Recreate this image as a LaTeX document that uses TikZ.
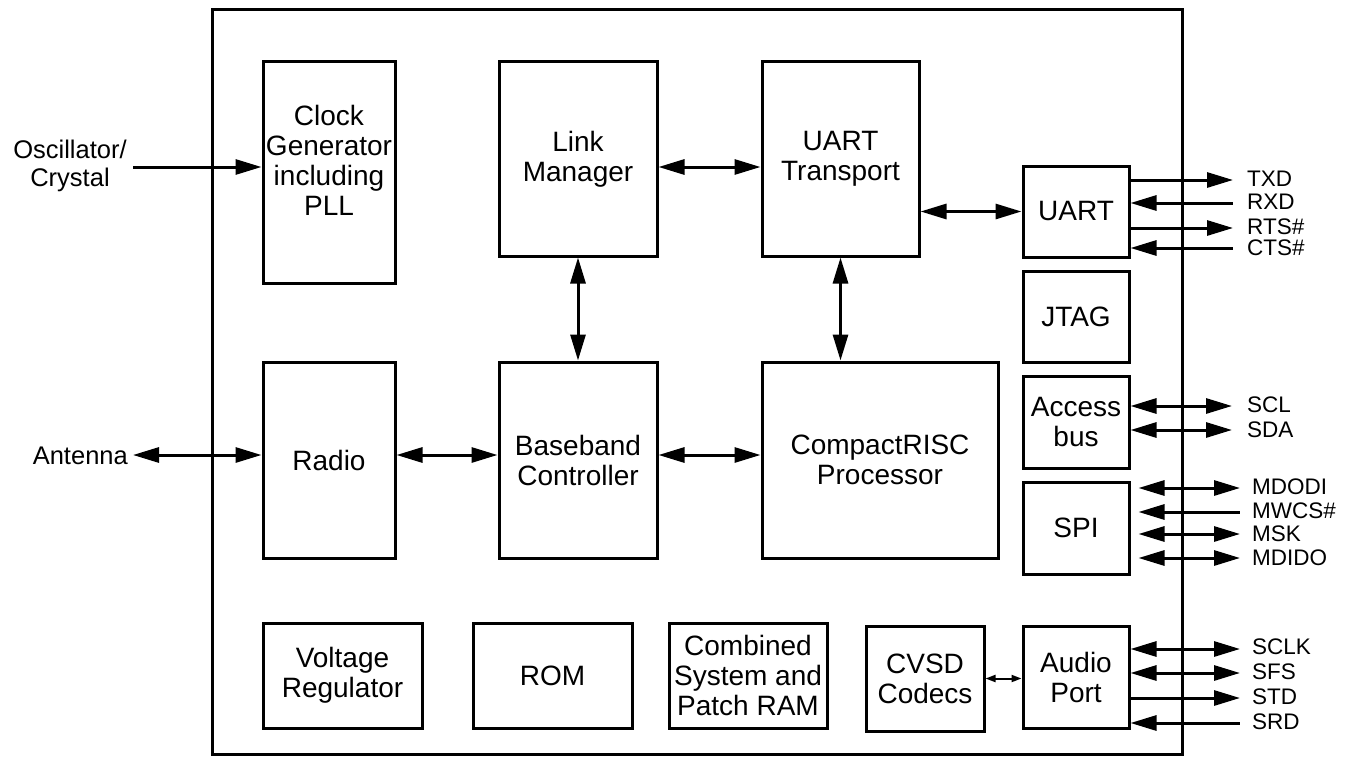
\documentclass[tikz,border=0pt]{standalone}
\usepackage{fontspec}
\setmainfont{Liberation Sans}
\usetikzlibrary{arrows.meta,calc}
\begin{document}
\begin{tikzpicture}[x=1pt,y=-1pt,
  blk/.style={draw, line width=3pt, inner sep=0pt, align=center, font=\fontsize{28}{30}\selectfont},
  txt/.style={inner sep=0pt, align=center, font=\fontsize{28}{30}\selectfont},
  sig/.style={anchor=west, inner sep=0pt, font=\fontsize{22.5}{24}\selectfont},
  ext/.style={inner sep=0pt, align=center, font=\fontsize{25.5}{28}\selectfont},
  conn/.style={line width=3pt, >={Triangle[length=26pt,width=15pt]}},
  small/.style={line width=2pt, >={Triangle[length=10pt,width=7pt]}}
]
\useasboundingbox (0,0) rectangle (1351,757);
% outer chip
\node[draw, line width=3pt, inner sep=0pt, minimum width=970pt, minimum height=744pt] (chip) at (697,382) {};
% top row
\node[blk, minimum width=132pt, minimum height=221pt] (clk) at (329,172.5) {};
\node[txt] (clktxt) at (329,160) {Clock\\Generator\\including\\PLL};
\node[blk, minimum width=158pt, minimum height=194pt] (lm) at (578,159) {Link\\Manager};
\node[blk, minimum width=157pt, minimum height=194pt] (ut) at (840.5,159) {UART\\Transport};
% middle row
\node[blk, minimum width=132pt, minimum height=196pt] (radio) at (329,460) {Radio};
\node[blk, minimum width=158pt, minimum height=196pt] (bb) at (578,460) {Baseband\\Controller};
\node[blk, minimum width=236pt, minimum height=196pt] (cr) at (880,460) {CompactRISC\\Processor};
% bottom row
\node[blk, minimum width=159pt, minimum height=105pt] (vr) at (342.5,675.5) {Voltage\\Regulator};
\node[blk, minimum width=159pt, minimum height=105pt] (rom) at (552.5,675.5) {ROM};
\node[blk, minimum width=158pt, minimum height=105pt] (ram) at (748,675.5) {Combined\\System and\\Patch RAM};
\node[blk, minimum width=118pt, minimum height=105pt] (cvsd) at (925,678.5) {CVSD\\Codecs};
% right column
\node[blk, minimum width=106pt, minimum height=91pt] (uart) at (1076,211.5) {UART};
\node[blk, minimum width=106pt, minimum height=91pt] (jtag) at (1076,316.5) {JTAG};
\node[blk, minimum width=106pt, minimum height=92pt] (acc) at (1076,422) {Access\\bus};
\node[blk, minimum width=106pt, minimum height=92pt] (spi) at (1076,528) {SPI};
\node[blk, minimum width=106pt, minimum height=102pt] (ap) at (1076,677) {Audio\\Port};
% external labels
\node[ext] (osc) at (70,166) {Oscillator/\\Crystal};
\node[ext, anchor=east] (ant) at (128,456) {Antenna};
\coordinate (oscend) at (133,167);
\coordinate (antend) at (133,455);
% internal connectors
\draw[conn,->] (oscend) -- (oscend -| clk.west);
\draw[conn,<->] (antend) -- (antend -| radio.west);
\draw[conn,<->] (lm.east |- 0,167) -- (ut.west |- 0,167);
\draw[conn,<->] (ut.east |- uart.west) -- (uart.west);
\draw[conn,<->] (lm.south) -- (bb.north);
\draw[conn,<->] (ut.south) -- (ut.south |- cr.north);
\draw[conn,<->] (radio.east |- 0,455) -- (bb.west |- 0,455);
\draw[conn,<->] (bb.east |- 0,455) -- (cr.west |- 0,455);
\draw[small,<->] (cvsd.east) -- (cvsd.east -| ap.west);
% signal ends
\coordinate (txd) at (1233,180);
\coordinate (rxd) at (1233,203);
\coordinate (rts) at (1233,228);
\coordinate (cts) at (1233,248);
\coordinate (scl) at (1232,406);
\coordinate (sda) at (1232,430);
\coordinate (mdodi) at (1240,488);
\coordinate (mwcs) at (1240,512);
\coordinate (msk) at (1240,534);
\coordinate (mdido) at (1240,558);
\coordinate (sclk) at (1240,649);
\coordinate (sfs) at (1240,673);
\coordinate (std) at (1240,698);
\coordinate (srd) at (1240,723);
% UART signals
\draw[conn,->] (uart.east |- txd) -- (txd);
\draw[conn,<-] (uart.east |- rxd) -- (rxd);
\draw[conn,->] (uart.east |- rts) -- (rts);
\draw[conn,<-] (uart.east |- cts) -- (cts);
% Access bus
\draw[conn,<->] (acc.east |- scl) -- (scl);
\draw[conn,<->] (acc.east |- sda) -- (sda);
% SPI
\draw[conn,<->] ($(spi.east |- mdodi)+(8,0)$) -- (mdodi);
\draw[conn,<-] ($(spi.east |- mwcs)+(8,0)$) -- (mwcs);
\draw[conn,<->] ($(spi.east |- msk)+(8,0)$) -- (msk);
\draw[conn,<->] ($(spi.east |- mdido)+(8,0)$) -- (mdido);
% Audio
\draw[conn,<->] (ap.east |- sclk) -- (sclk);
\draw[conn,<->] (ap.east |- sfs) -- (sfs);
\draw[conn,->] (ap.east |- std) -- (std);
\draw[conn,<-] (ap.east |- srd) -- (srd);
% signal labels
\node[sig] (ltxd) at (1247,179) {TXD};
\node[sig] (lrxd) at (1247,202) {RXD};
\node[sig] (lrts) at (1247,227) {RTS\#};
\node[sig] (lcts) at (1247,248) {CTS\#};
\node[sig] (lscl) at (1247,405) {SCL};
\node[sig] (lsda) at (1247,430) {SDA};
\node[sig] (lmdodi) at (1252,487) {MDODI};
\node[sig] (lmwcs) at (1252,511) {MWCS\#};
\node[sig] (lmsk) at (1252,534) {MSK};
\node[sig] (lmdido) at (1252,558) {MDIDO};
\node[sig] (lsclk) at (1252,647) {SCLK};
\node[sig] (lsfs) at (1252,672) {SFS};
\node[sig] (lstd) at (1252,697) {STD};
\node[sig] (lsrd) at (1252,722) {SRD};
\end{tikzpicture}
\end{document}
